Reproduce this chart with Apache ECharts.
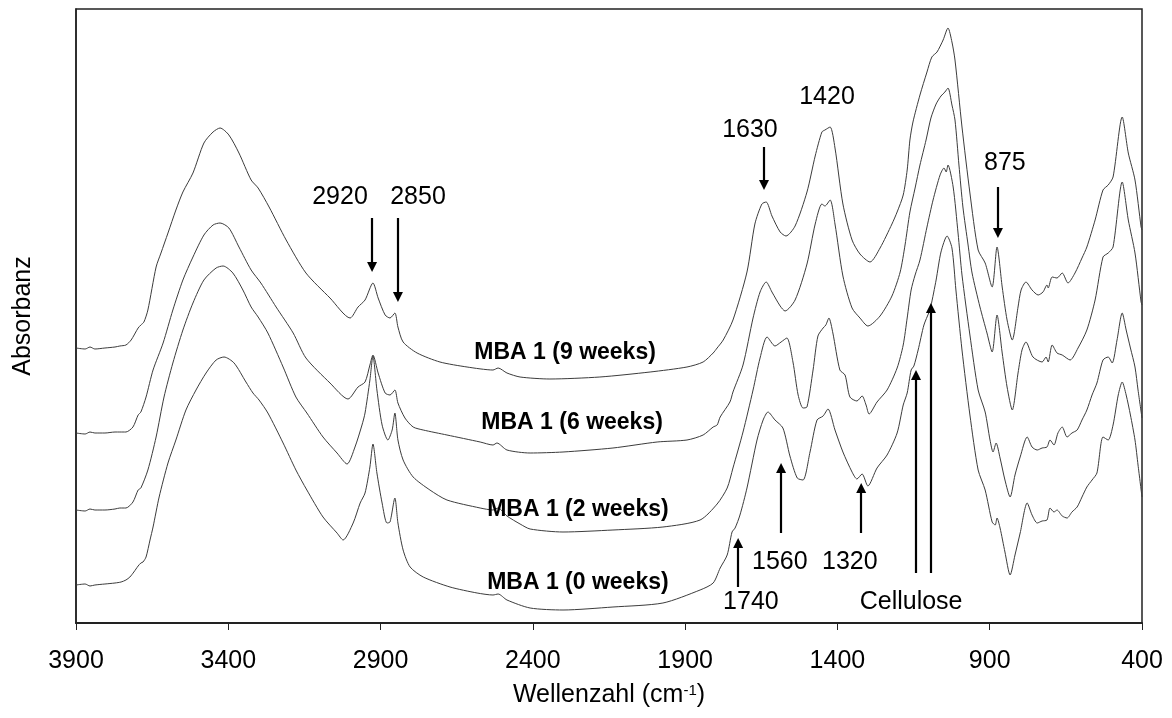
<!DOCTYPE html>
<html><head><meta charset="utf-8">
<script src="https://cdn.jsdelivr.net/npm/echarts@6/dist/echarts.min.js"></script>
<style>html,body{margin:0;padding:0;background:#fff}#c{width:1172px;height:718px}</style>
</head><body><div id="c"></div>
<script>
// FTIR spectra: [wavenumber cm-1, absorbance (arbitrary units, offset)]
const spec9w = [[3900,275],[3870,274],[3854,276],[3838,274],[3805,275],[3772,276],[3756,277],[3736,278],[3719,283],[3696,295],[3687,298],[3677,301],[3664,313],[3637,356],[3621,370],[3598,390],[3572,413],[3549,431],[3516,450],[3480,480],[3450,491],[3427,495],[3398,488],[3365,470],[3325,443],[3302,435],[3266,416],[3210,383],[3145,350],[3066,325],[3000,305],[2974,316],[2951,323],[2925,340],[2908,325],[2885,308],[2869,305],[2853,310],[2843,296],[2826,281],[2780,270],[2705,261],[2616,256],[2531,253],[2514,255],[2485,250],[2442,246],[2344,244],[2180,246],[2015,251],[1894,256],[1841,261],[1808,270],[1795,275],[1775,283],[1743,303],[1697,351],[1671,399],[1648,419],[1634,421],[1615,407],[1588,391],[1569,387],[1539,397],[1500,431],[1473,467],[1451,491],[1441,493],[1424,496],[1408,475],[1382,419],[1352,383],[1326,369],[1293,361],[1260,375],[1221,399],[1204,411],[1184,428],[1171,453],[1162,483],[1152,501],[1129,528],[1106,551],[1090,566],[1073,571],[1053,583],[1037,595],[1024,581],[1014,563],[991,496],[965,430],[938,373],[915,360],[892,336],[876,376],[859,336],[843,303],[826,283],[807,316],[797,333],[781,341],[761,333],[741,328],[725,331],[712,338],[708,335],[695,346],[679,345],[662,350],[643,340],[620,350],[597,365],[581,376],[554,403],[528,433],[511,438],[495,446],[465,506],[445,470],[423,443],[403,396],[400,393]];
const spec6w = [[3900,190],[3870,189],[3854,191],[3838,190],[3805,190],[3772,191],[3756,191],[3736,191],[3713,196],[3696,208],[3687,211],[3670,226],[3647,253],[3614,280],[3582,313],[3549,343],[3516,366],[3480,388],[3450,398],[3427,400],[3398,395],[3365,376],[3325,353],[3293,340],[3243,316],[3187,290],[3145,265],[3066,240],[3007,224],[2974,236],[2951,241],[2935,258],[2925,268],[2908,250],[2885,230],[2869,228],[2853,233],[2843,220],[2820,205],[2793,196],[2760,193],[2682,188],[2573,181],[2531,178],[2518,180],[2485,173],[2409,170],[2301,171],[2137,175],[1992,181],[1894,183],[1841,188],[1808,196],[1795,198],[1785,206],[1753,221],[1743,231],[1710,258],[1677,305],[1654,331],[1634,341],[1615,331],[1588,317],[1572,312],[1539,323],[1500,359],[1473,399],[1451,419],[1441,417],[1424,423],[1408,399],[1382,347],[1352,315],[1326,305],[1300,297],[1260,307],[1221,327],[1194,351],[1178,378],[1162,411],[1145,435],[1129,458],[1109,483],[1093,505],[1076,519],[1060,527],[1047,531],[1037,535],[1024,518],[1014,503],[1001,458],[988,416],[971,378],[958,350],[932,316],[909,290],[892,271],[876,308],[859,270],[843,236],[826,213],[807,250],[794,273],[781,281],[758,266],[728,261],[715,266],[708,261],[695,278],[679,270],[662,268],[636,263],[610,275],[581,293],[554,323],[528,366],[511,370],[495,376],[465,441],[445,403],[423,370],[403,321],[400,318]];
const spec2w = [[3900,113],[3870,112],[3854,114],[3838,113],[3805,113],[3772,114],[3756,115],[3736,115],[3713,121],[3696,133],[3687,135],[3664,153],[3637,186],[3611,226],[3582,260],[3549,293],[3516,320],[3480,343],[3440,355],[3417,357],[3385,350],[3352,333],[3325,316],[3302,306],[3270,290],[3220,256],[3178,226],[3142,210],[3089,186],[3043,170],[3010,159],[2984,176],[2961,198],[2951,210],[2935,243],[2925,267],[2912,233],[2895,198],[2876,183],[2862,193],[2853,210],[2843,183],[2826,163],[2793,146],[2738,133],[2682,123],[2573,115],[2531,113],[2514,115],[2485,107],[2442,99],[2409,94],[2301,91],[2137,93],[1973,96],[1851,103],[1795,119],[1762,135],[1743,155],[1710,191],[1677,233],[1654,265],[1631,286],[1605,277],[1585,281],[1566,285],[1546,261],[1529,228],[1513,215],[1500,216],[1480,253],[1464,287],[1447,295],[1438,298],[1428,305],[1415,290],[1392,253],[1375,248],[1359,226],[1336,222],[1319,227],[1306,218],[1296,209],[1270,221],[1237,233],[1204,255],[1184,278],[1171,305],[1158,333],[1145,348],[1129,363],[1106,396],[1086,423],[1063,448],[1050,455],[1043,451],[1037,458],[1020,436],[1004,390],[991,348],[965,288],[938,233],[915,211],[899,183],[889,171],[879,180],[866,165],[850,143],[833,126],[817,148],[800,166],[777,186],[761,176],[744,173],[728,175],[712,176],[702,183],[689,178],[676,190],[662,196],[646,186],[630,190],[613,193],[597,203],[581,213],[564,228],[548,240],[528,263],[511,266],[498,260],[482,283],[465,310],[452,293],[438,275],[423,256],[413,233],[400,205]];
const spec0w = [[3900,38],[3870,39],[3854,37],[3838,38],[3805,39],[3772,40],[3752,41],[3736,43],[3723,46],[3710,51],[3696,57],[3687,60],[3680,61],[3670,66],[3657,83],[3647,96],[3627,126],[3598,160],[3572,183],[3539,213],[3506,233],[3473,250],[3440,263],[3414,266],[3381,260],[3342,241],[3319,230],[3299,223],[3270,210],[3220,180],[3178,153],[3142,133],[3089,106],[3043,90],[3023,83],[2990,100],[2967,120],[2951,130],[2935,156],[2925,179],[2912,150],[2895,120],[2879,100],[2869,101],[2853,125],[2843,100],[2826,73],[2803,56],[2760,46],[2672,36],[2583,30],[2531,28],[2514,29],[2485,23],[2409,15],[2301,13],[2137,16],[1973,20],[1851,33],[1808,40],[1785,55],[1762,68],[1746,91],[1736,95],[1720,108],[1697,135],[1664,183],[1644,203],[1628,211],[1605,203],[1579,195],[1556,167],[1532,145],[1513,143],[1490,171],[1467,203],[1447,207],[1431,214],[1408,193],[1382,171],[1352,151],[1336,144],[1319,149],[1300,137],[1270,155],[1237,168],[1204,190],[1184,218],[1171,230],[1158,253],[1149,257],[1135,273],[1116,298],[1099,311],[1093,317],[1076,343],[1060,371],[1040,387],[1024,375],[1011,333],[991,273],[965,208],[938,153],[915,133],[892,101],[882,98],[876,105],[866,95],[850,71],[833,48],[817,68],[800,90],[777,120],[761,108],[744,100],[728,102],[712,103],[702,115],[689,111],[679,113],[662,107],[646,105],[630,111],[613,116],[597,126],[581,136],[564,143],[548,150],[528,186],[511,183],[495,198],[478,228],[465,241],[452,228],[438,208],[423,183],[413,158],[400,126]];
const spectra = [spec9w, spec6w, spec2w, spec0w];
const seriesNames = ['MBA 1 (9 weeks)', 'MBA 1 (6 weeks)', 'MBA 1 (2 weeks)', 'MBA 1 (0 weeks)'];

// Annotations (data coordinates)
const seriesLabelPos = [[2294,270],[2271,200],[2252,113],[2252,40]];
const peakLabels = ['2920','2850','1630','1420','875','1740','1560','1320','Cellulose'];
const peakLabelPos = [[3033,426],[2777,426],[1687,493],[1434,526],[850,460],[1684,21],[1589,61],[1359,61],[1158,21]];
// arrows: [wavenumber, start value, end value]
const arrows = [[2928,405,356],[2843,405,326],[1641,476,438],[873,436,390],[1726,36,80],[1585,90,155],[1322,90,135],[1142,50,248],[1093,50,315]];

const FONT = "'Liberation Sans', Arial, Helvetica, sans-serif";
const chart = echarts.init(document.getElementById('c'), null, {renderer: 'canvas'});

const series = spectra.map((d, i) => ({
  name: seriesNames[i], type: 'line', data: d, showSymbol: false, smooth: 0.25,
  lineStyle: {color: '#3c3c3c', width: 1}, silent: true, z: 2
}));

const labelBase = {show: true, position: [0, 0], align: 'center', verticalAlign: 'middle',
  color: '#000', fontSize: 25, fontFamily: FONT, textBorderWidth: 0, opacity: 1};

series.push({
  type: 'scatter', name: 'labels', silent: true, symbolSize: 0.1,
  itemStyle: {color: 'rgba(0,0,0,0)'}, z: 5,
  data: peakLabelPos.map((p, i) => ({value: p, label: Object.assign({}, labelBase, {formatter: peakLabels[i]})}))
    .concat(seriesLabelPos.map((p, i) => ({value: p, label: Object.assign({}, labelBase, {formatter: seriesNames[i], fontWeight: 'bold', fontSize: 23})}))),
  label: labelBase,
  markLine: {
    silent: true, symbol: ['none', 'triangle'], symbolSize: 10, animation: false,
    label: {show: false},
    lineStyle: {color: '#000', width: 2.2, type: 'solid', opacity: 1},
    itemStyle: {color: '#000'},
    data: arrows.map(a => [{coord: [a[0], a[1]]}, {coord: [a[0], a[2]]}])
  }
});

chart.setOption({
  animation: false,
  backgroundColor: '#fff',
  grid: {left: 76, top: 9, width: 1066, height: 614, show: true, borderColor: '#222', borderWidth: 1.5, backgroundColor: 'transparent'},
  xAxis: {
    type: 'value', inverse: true, min: 400, max: 3900, interval: 500,
    name: '{a|Wellenzahl (cm}{s|-1}{a|)}', nameLocation: 'middle', nameGap: 60,
    nameTextStyle: {rich: {
      a: {fontSize: 25, fontFamily: FONT, color: '#000'},
      s: {fontSize: 15, fontFamily: FONT, color: '#000', verticalAlign: 'top', padding: [0, 0, 10, 0]}
    }},
    axisLine: {show: true, lineStyle: {color: '#222', width: 2}},
    axisTick: {show: true, inside: false, length: 7, lineStyle: {color: '#222', width: 1}},
    axisLabel: {color: '#000', fontSize: 25, fontFamily: FONT, margin: 26, formatter: v => String(v)},
    splitLine: {show: false}
  },
  yAxis: {
    type: 'value', min: 0, max: 614,
    name: 'Absorbanz', nameLocation: 'middle', nameGap: 40, nameRotate: 90,
    nameTextStyle: {fontSize: 25, fontFamily: FONT, color: '#000'},
    axisLine: {show: true, lineStyle: {color: '#222', width: 1.5}},
    axisTick: {show: false}, axisLabel: {show: false}, splitLine: {show: false}
  },
  series: series
});
</script>
</body></html>
